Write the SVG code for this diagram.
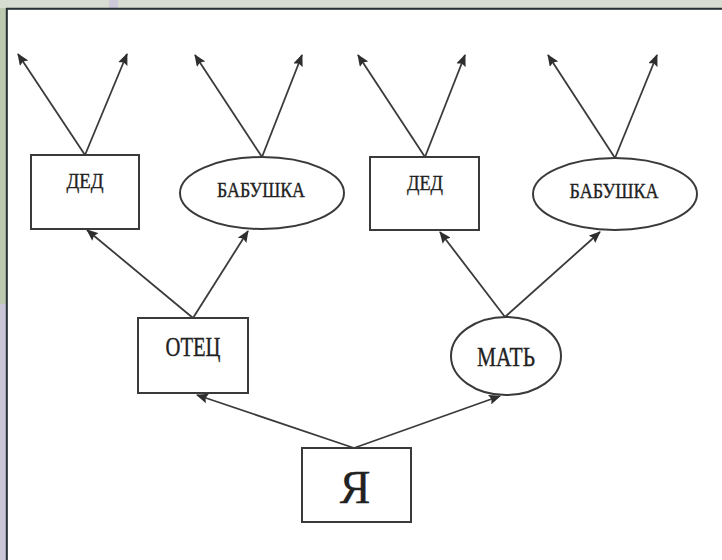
<svg xmlns="http://www.w3.org/2000/svg" width="722" height="560" viewBox="0 0 722 560">
<style>
.node{fill:#fff;stroke:#3a3a3a;stroke-width:2}
.lbl{font-family:"Liberation Serif","Times New Roman",serif;fill:#222;stroke:#222;stroke-width:0.35;text-anchor:middle}
.edge{stroke:#3a3a3a;stroke-width:1.8;fill:none;marker-end:url(#ah)}
</style>
<defs>
<marker id="ah" viewBox="0 0 12 10" refX="11" refY="5" markerWidth="12" markerHeight="10" markerUnits="userSpaceOnUse" orient="auto">
<path d="M0,0 L12,5 L0,10 L2,5 Z" fill="#2e2e2e"/>
</marker>
</defs>
<g id="frame">
<rect x="0" y="0" width="722" height="560" fill="#d8ddd1"/>
<rect x="0" y="8" width="7" height="296" fill="#bdcab0"/>
<rect x="0" y="304" width="7" height="256" fill="#cac6d8"/>
<rect x="109" y="0" width="9" height="8" fill="#cdc8da"/>
<rect x="8" y="10" width="714" height="550" fill="#fff"/>
<line x1="6" y1="8.8" x2="722" y2="8.8" stroke="#263035" stroke-width="2"/>
<line x1="6.8" y1="8" x2="6.8" y2="560" stroke="#263035" stroke-width="2"/>
</g>
<g id="connectors">
<line class="edge" x1="85" y1="155" x2="18" y2="54"/>
<line class="edge" x1="85" y1="155" x2="127" y2="54"/>
<line class="edge" x1="262" y1="157" x2="195" y2="55"/>
<line class="edge" x1="262" y1="157" x2="302" y2="55"/>
<line class="edge" x1="425" y1="157" x2="358" y2="55"/>
<line class="edge" x1="425" y1="157" x2="465" y2="55"/>
<line class="edge" x1="615" y1="158" x2="548" y2="55"/>
<line class="edge" x1="615" y1="158" x2="657" y2="55"/>
<line class="edge" x1="193" y1="318" x2="87" y2="230"/>
<line class="edge" x1="193" y1="318" x2="248" y2="231"/>
<line class="edge" x1="505" y1="317" x2="440" y2="232"/>
<line class="edge" x1="505" y1="317" x2="600" y2="232"/>
<line class="edge" x1="354" y1="448" x2="197" y2="395"/>
<line class="edge" x1="354" y1="448" x2="500" y2="396"/>
</g>
<g id="ded1">
<rect class="node" x="31" y="155" width="108" height="74"/>
<text class="lbl" x="85" y="188" font-size="22" textLength="37" lengthAdjust="spacingAndGlyphs">ДЕД</text>
</g>
<g id="babushka1">
<ellipse class="node" cx="262" cy="193" rx="82" ry="36"/>
<text class="lbl" x="261" y="197" font-size="22" textLength="88" lengthAdjust="spacingAndGlyphs">БАБУШКА</text>
</g>
<g id="ded2">
<rect class="node" x="370" y="157" width="109" height="73"/>
<text class="lbl" x="425" y="190" font-size="22" textLength="36" lengthAdjust="spacingAndGlyphs">ДЕД</text>
</g>
<g id="babushka2">
<ellipse class="node" cx="615" cy="194" rx="82" ry="36"/>
<text class="lbl" x="614" y="198" font-size="22" textLength="89" lengthAdjust="spacingAndGlyphs">БАБУШКА</text>
</g>
<g id="otec">
<rect class="node" x="138" y="318" width="110" height="75"/>
<text class="lbl" x="193" y="356" font-size="27" textLength="55" lengthAdjust="spacingAndGlyphs">ОТЕЦ</text>
</g>
<g id="mat">
<ellipse class="node" cx="506" cy="356" rx="55" ry="39"/>
<text class="lbl" x="506" y="366" font-size="28" textLength="58" lengthAdjust="spacingAndGlyphs">МАТЬ</text>
</g>
<g id="ya">
<rect class="node" x="302" y="448" width="109" height="74"/>
<text class="lbl" x="355" y="503" font-size="46">Я</text>
</g>
</svg>
